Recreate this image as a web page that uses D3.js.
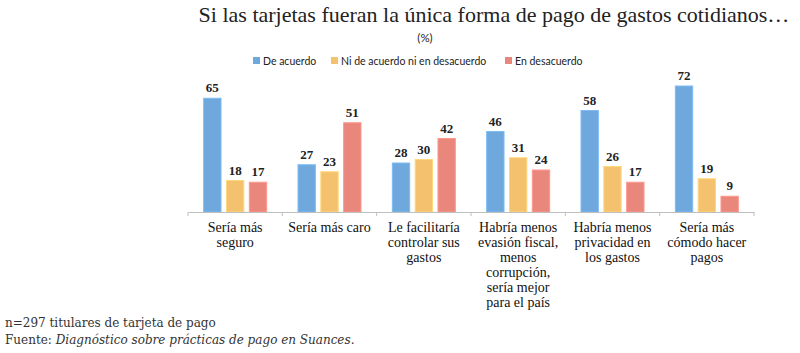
<!DOCTYPE html>
<html>
<head>
<meta charset="utf-8">
<script src="https://cdn.jsdelivr.net/npm/d3@7"></script>
<style>
  body { margin: 0; background: #fff; }
</style>
</head>
<body>
<div id="chart"></div>
<script>
/* Tarjetas como única forma de pago - barras agrupadas */

const categories = [
  ["Sería más", "seguro"],
  ["Sería más caro"],
  ["Le facilitaría", "controlar sus", "gastos"],
  ["Habría menos", "evasión fiscal,", "menos", "corrupción,", "sería mejor", "para el país"],
  ["Habría menos", "privacidad en", "los gastos"],
  ["Sería más", "cómodo hacer", "pagos"]
];
const seriesNames = ["De acuerdo", "Ni de acuerdo ni en desacuerdo", "En desacuerdo"];
const deAcuerdo = [65, 27, 28, 46, 58, 72];
const niNi = [18, 23, 30, 31, 26, 19];
const enDesacuerdo = [17, 51, 42, 24, 17, 9];
const colors = ["#6fa8dc", "#f4c26f", "#ea877d"];

const width = 800, height = 353;
const serif = "'Liberation Serif', 'DejaVu Serif', serif";
const sans = "Lato, 'Liberation Sans', sans-serif";

const svg = d3.select("#chart")
  .append("svg")
  .attr("width", width)
  .attr("height", height);

const x = d3.scaleBand().domain(d3.range(categories.length)).range([188, 754]);
const xInner = d3.scaleBand().domain(d3.range(3)).range([0, 63]).paddingInner(0.24);
const y = d3.scaleLinear().domain([0, 100]).range([212, 37]);

const series = [deAcuerdo, niNi, enDesacuerdo];

// title
svg.append("text")
  .attr("x", 494).attr("y", 22)
  .attr("text-anchor", "middle")
  .attr("font-family", serif)
  .attr("font-size", 22)
  .attr("fill", "#222")
  .text("Si las tarjetas fueran la única forma de pago de gastos cotidianos…");

svg.append("text")
  .attr("x", 425).attr("y", 42)
  .attr("text-anchor", "middle")
  .attr("font-family", sans)
  .attr("font-size", 11.5)
  .attr("fill", "#222")
  .text("(%)");

// legend
const legendX = [253, 331, 505];
const legend = svg.append("g")
  .selectAll("g")
  .data(seriesNames)
  .join("g")
  .attr("transform", (d, i) => `translate(${legendX[i]},57)`);
legend.append("rect")
  .attr("width", 7).attr("height", 7)
  .attr("fill", (d, i) => colors[i]);
legend.append("text")
  .attr("x", 10).attr("y", 7.5)
  .attr("font-family", sans)
  .attr("font-size", 10.5)
  .attr("fill", "#222")
  .text(d => d);

// bars
const groups = svg.append("g")
  .selectAll("g")
  .data(categories)
  .join("g")
  .attr("transform", (d, i) => `translate(${x(i) + x.bandwidth() / 2 - 31.5},0)`);

groups.selectAll("rect")
  .data((d, i) => series.map((s, k) => ({k, v: s[i]})))
  .join("rect")
  .attr("x", d => xInner(d.k))
  .attr("width", xInner.bandwidth())
  .attr("y", d => y(d.v))
  .attr("height", d => y(0) - y(d.v))
  .attr("fill", d => colors[d.k])
  .attr("stroke", d => d3.color(colors[d.k]).brighter(0.3))
  .attr("stroke-width", 1);

groups.selectAll("text")
  .data((d, i) => series.map((s, k) => ({k, v: s[i]})))
  .join("text")
  .attr("x", d => xInner(d.k) + xInner.bandwidth() / 2)
  .attr("y", d => y(d.v) - 6)
  .attr("text-anchor", "middle")
  .attr("font-family", serif)
  .attr("font-weight", "bold")
  .attr("font-size", 13)
  .attr("fill", "#222")
  .text(d => d.v);

// axis
const axis = svg.append("g")
  .attr("transform", `translate(0,${y(0)})`)
  .call(d3.axisBottom(x).tickSize(0).tickFormat(""));
axis.select(".domain").attr("stroke", "#bfbfbf");
axis.selectAll(".tick").remove();
axis.selectAll(".sep")
  .data(d3.range(categories.length + 1))
  .join("line")
  .attr("x1", i => 188 + i * x.step())
  .attr("x2", i => 188 + i * x.step())
  .attr("y1", 0).attr("y2", 4)
  .attr("stroke", "#bfbfbf");

// category labels
svg.append("g")
  .selectAll("text")
  .data(categories)
  .join("text")
  .attr("text-anchor", "middle")
  .attr("font-family", serif)
  .attr("font-size", 14)
  .attr("fill", "#111")
  .selectAll("tspan")
  .data((d, i) => d.map(line => ({line, i})))
  .join("tspan")
  .attr("x", d => x(d.i) + x.bandwidth() / 2)
  .attr("y", (d, j) => 232 + j * 15)
  .text(d => d.line);

// footer
const foot = svg.append("g")
  .attr("font-family", "'DejaVu Serif', serif")
  .attr("font-size", 12)
  .attr("fill", "#333");
foot.append("text").attr("x", 5).attr("y", 327)
  .text("n=297 titulares de tarjeta de pago");
const f2 = foot.append("text").attr("x", 5).attr("y", 344);
f2.append("tspan").text("Fuente: ");
f2.append("tspan").attr("font-style", "italic").text("Diagnóstico sobre prácticas de pago en Suances");
f2.append("tspan").text(".");
</script>
</body>
</html>
